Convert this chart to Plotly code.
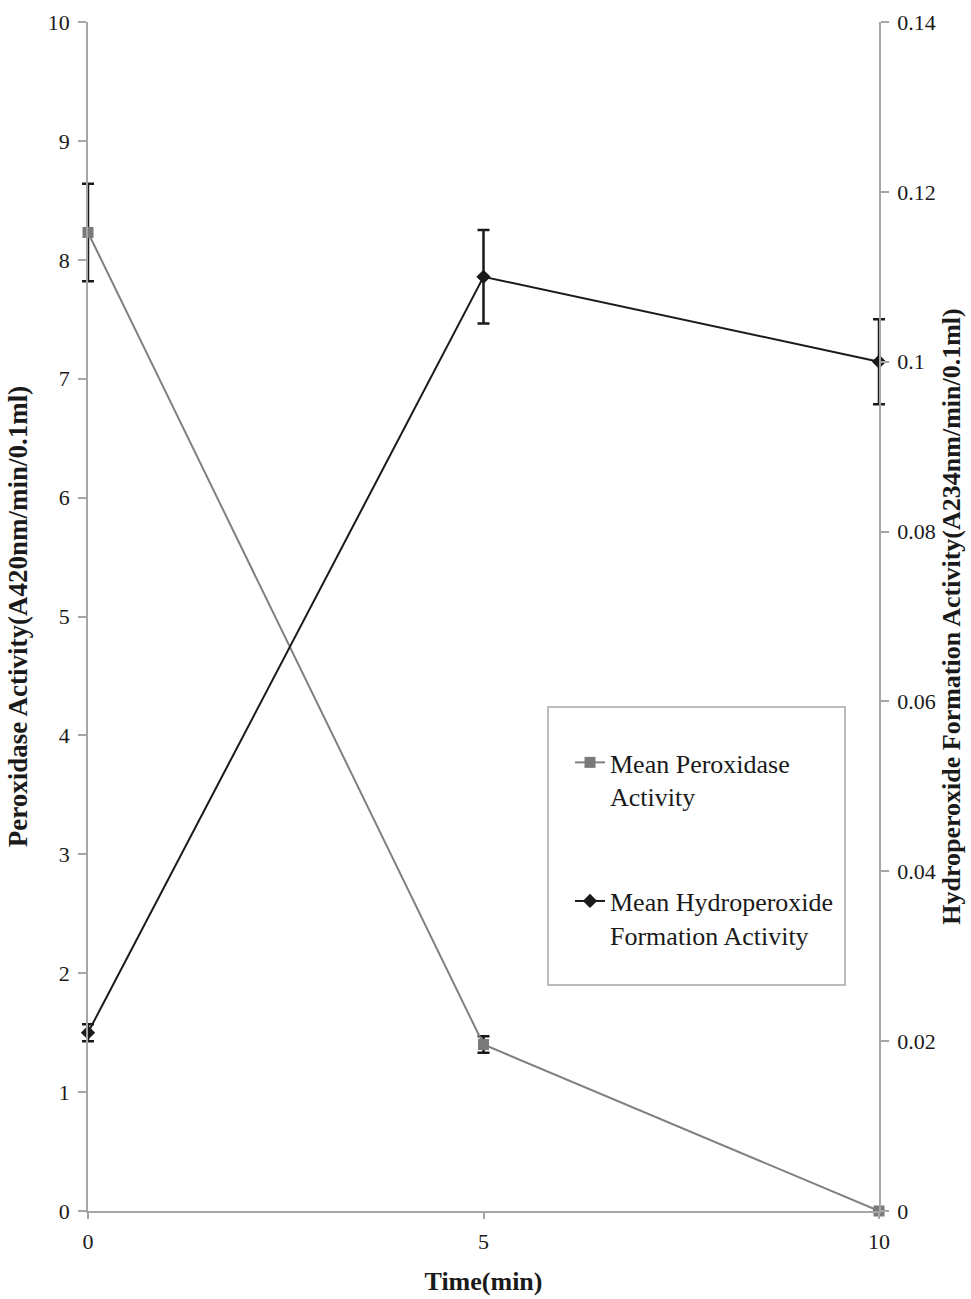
import plotly.graph_objects as go

time_min = [0, 5, 10]
peroxidase = [8.23, 1.40, 0.0]
peroxidase_err = [0.41, 0.07, 0.0]
hydroperoxide = [0.021, 0.110, 0.100]
hydroperoxide_err = [0.001, 0.0055, 0.005]

left_ticks = [0, 1, 2, 3, 4, 5, 6, 7, 8, 9, 10]
right_ticks = [0, 0.02, 0.04, 0.06, 0.08, 0.1, 0.12, 0.14]
right_labels = ["0", "0.02", "0.04", "0.06", "0.08", "0.1", "0.12", "0.14"]
x_ticks = [0, 5, 10]

FONT = "Liberation Serif"
INK = "#1a1a1a"
AXIS_GREY = "#a6a6a6"

# Visible axes sit inside a wider hidden data area so that the error-bar
# caps at x=0 and x=10 are not clipped.
ML, MR = 40, 40
PLOT_W = 971 - ML - MR
VIS_L, VIS_R = 88, 879
dom_l = (VIS_L - ML) / PLOT_W
dom_r = (VIS_R - ML) / PLOT_W
px_per_unit = (VIS_R - VIS_L) / (x_ticks[-1] - x_ticks[0])
data_range = [x_ticks[0] - (VIS_L - ML) / px_per_unit,
              x_ticks[-1] + (971 - MR - VIS_R) / px_per_unit]

fig = go.Figure()
# axis carriers (no marks) so the visible axes get drawn
fig.add_trace(go.Scatter(x=[None], y=[None], xaxis="x2", yaxis="y3",
                         showlegend=False, hoverinfo="skip"))
fig.add_trace(go.Scatter(x=[None], y=[None], xaxis="x2", yaxis="y4",
                         showlegend=False, hoverinfo="skip"))

fig.add_trace(go.Scatter(
    x=time_min, y=peroxidase, name="Mean Peroxidase<br>Activity",
    mode="lines+markers", xaxis="x", yaxis="y",
    line=dict(color="#808080", width=2),
    marker=dict(symbol="square", size=11, color="#7a7a7a"),
    error_y=dict(type="data", array=peroxidase_err, visible=True,
                 color=INK, thickness=2.5, width=6),
    cliponaxis=False, legendgroup="a",
))
fig.add_trace(go.Scatter(
    x=time_min, y=hydroperoxide, name="Mean Hydroperoxide<br>Formation Activity",
    mode="lines+markers", xaxis="x", yaxis="y2",
    line=dict(color=INK, width=2),
    marker=dict(symbol="diamond", size=11, color=INK),
    error_y=dict(type="data", array=hydroperoxide_err, visible=True,
                 color=INK, thickness=2.5, width=6),
    cliponaxis=False, legendgroup="b",
))

axis_common = dict(showgrid=False, zeroline=False, showline=True,
                   linecolor=AXIS_GREY, linewidth=1.5, automargin=False,
                   ticks="outside", tickcolor=AXIS_GREY, tickwidth=1.5,
                   tickfont=dict(family=FONT, size=22, color=INK))
title_font = dict(family=FONT, size=26, color=INK)
ytitle_font = dict(family=FONT, size=27, color=INK)

fig.update_layout(
    width=971, height=1299,
    margin=dict(l=ML, r=MR, t=22, b=88, autoexpand=False),
    paper_bgcolor="white", plot_bgcolor="rgba(0,0,0,0)",
    font=dict(family=FONT, color=INK),
    # hidden data axes
    xaxis=dict(domain=[0, 1], range=data_range, visible=False, anchor="y"),
    yaxis=dict(range=[0, 10], visible=False, anchor="x"),
    yaxis2=dict(range=[0, 0.14], visible=False, overlaying="y", anchor="x"),
    # visible axes
    xaxis2=dict(domain=[dom_l, dom_r], range=[0, 10], tickvals=x_ticks,
                ticklen=6, ticklabelstandoff=4, anchor="y3",
                title=dict(text="<b>Time(min)</b>", font=title_font, standoff=19),
                **axis_common),
    yaxis3=dict(range=[0, 10], tickvals=left_ticks, ticklen=8, anchor="x2",
                ticklabelstandoff=4,
                title=dict(text="<b>Peroxidase Activity(A420nm/min/0.1ml)</b>",
                           font=ytitle_font, standoff=12),
                **axis_common),
    yaxis4=dict(range=[0, 0.14], tickvals=right_ticks, ticktext=right_labels,
                overlaying="y3", anchor="x2", side="right", ticklen=8,
                ticklabelstandoff=4,
                title=dict(text="<b>Hydroperoxide Formation Activity(A234nm/min/0.1ml)</b>",
                           font=title_font, standoff=7),
                **axis_common),
    legend=dict(x=(570 - ML) / PLOT_W, y=0.397, xanchor="left", yanchor="top",
                bgcolor="rgba(0,0,0,0)", borderwidth=0,
                font=dict(family=FONT, size=26, color=INK),
                traceorder="grouped", tracegroupgap=68, valign="top"),
    shapes=[dict(type="rect", xref="paper", yref="paper",
                 x0=(548 - ML) / PLOT_W, x1=(845 - ML) / PLOT_W,
                 y0=0.1901, y1=0.4239,
                 line=dict(color=AXIS_GREY, width=1.5), fillcolor="rgba(0,0,0,0)")],
)

fig.write_html("out.html", config={"displayModeBar": False},
               post_script="document.body.style.margin='0';")
